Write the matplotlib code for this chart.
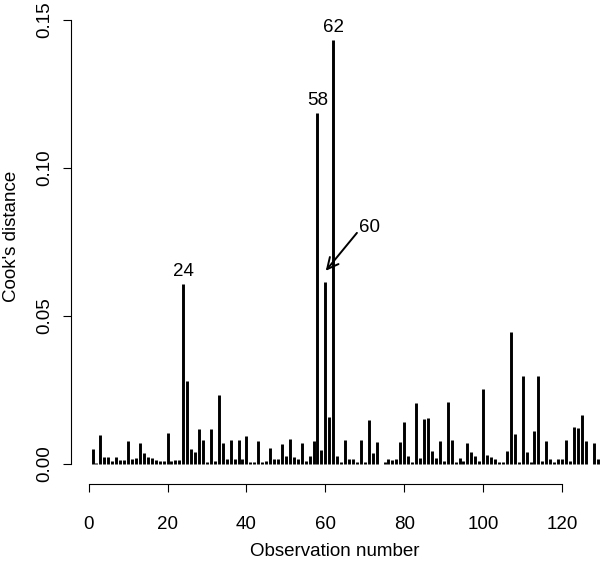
import matplotlib
matplotlib.use("Agg")
import matplotlib.pyplot as plt
import numpy as np

plt.rcParams['font.family'] = ['Liberation Sans', 'DejaVu Sans']

cooks_d = [
    0.0050, 0.0003, 0.0098, 0.0022, 0.0024, 0.0011, 0.0024, 0.0013, 0.0014, 0.0077,
    0.0017, 0.0020, 0.0071, 0.0038, 0.0022, 0.0020, 0.0015, 0.0010, 0.0009, 0.0105,
    0.0010, 0.0013, 0.0014, 0.0608, 0.0281, 0.0050, 0.0040, 0.0118, 0.0080, 0.0007,
    0.0118, 0.0011, 0.0234, 0.0070, 0.0017, 0.0081, 0.0017, 0.0081, 0.0017, 0.0093,
    0.0008, 0.0006, 0.0079, 0.0008, 0.0011, 0.0053, 0.0017, 0.0017, 0.0066, 0.0028,
    0.0084, 0.0023, 0.0017, 0.0070, 0.0011, 0.0026, 0.0077, 0.1185, 0.0048, 0.0615,
    0.0160, 0.1432, 0.0026, 0.0008, 0.0082, 0.0017, 0.0017, 0.0006, 0.0082, 0.0008,
    0.0149, 0.0037, 0.0073, 0.0000, 0.0008, 0.0017, 0.0014, 0.0017, 0.0073, 0.0141,
    0.0026, 0.0008, 0.0205, 0.0019, 0.0152, 0.0154, 0.0045, 0.0019, 0.0077, 0.0011,
    0.0210, 0.0082, 0.0008, 0.0019, 0.0011, 0.0071, 0.0039, 0.0028, 0.0011, 0.0253,
    0.0032, 0.0024, 0.0017, 0.0008, 0.0008, 0.0043, 0.0447, 0.0101, 0.0008, 0.0296,
    0.0042, 0.0008, 0.0113, 0.0298, 0.0010, 0.0077, 0.0017, 0.0006, 0.0017, 0.0017,
    0.0082, 0.0010, 0.0124, 0.0122, 0.0166, 0.0077, 0.0000, 0.0070, 0.0017,
]
obs = list(range(1, len(cooks_d) + 1))

labelled = [24, 58, 62]
arrow_obs = 60

x_ticks = [0, 20, 40, 60, 80, 100, 120]
y_ticks = [0.00, 0.05, 0.10, 0.15]
y_ticklabels = ["0.00", "0.05", "0.10", "0.15"]

fig = plt.figure(figsize=(6.0, 5.61), dpi=100)
ax = fig.add_axes([71/600, (561-484)/561, 529/600, 484/561])
ax.set_xlim(-4.46, 129.6)
ax.set_ylim(-0.00675, 0.1566)

ax.vlines(obs, 0, cooks_d, colors='black', linewidth=2.1, capstyle='butt')

fs = 13.5
for o in labelled:
    ax.text(o, cooks_d[o-1] + 0.0012, str(o), ha='center', va='bottom', fontsize=fs)

ax.annotate('', xy=(arrow_obs + 0.1, cooks_d[arrow_obs-1] + 0.0037), xytext=(68.0, 0.0780),
            arrowprops=dict(arrowstyle='->', lw=1.4, color='black', mutation_scale=20,
                            shrinkA=0, shrinkB=0))
ax.text(71.2, 0.0797, str(arrow_obs), ha='center', va='center', fontsize=fs)

for s in ['top', 'right']:
    ax.spines[s].set_visible(False)
ax.spines['left'].set_bounds(0, 0.15)
ax.spines['bottom'].set_bounds(0, 120)
ax.spines['left'].set_linewidth(0.8)
ax.spines['bottom'].set_linewidth(0.8)

ax.set_xticks(x_ticks)
ax.set_xticklabels([str(t) for t in x_ticks])
ax.set_yticks(y_ticks)
ax.set_yticklabels(y_ticklabels, rotation=90, va='center')
ax.tick_params(axis='both', direction='out', length=6, width=0.8, labelsize=fs)
ax.tick_params(axis='x', pad=17)
ax.tick_params(axis='y', pad=7)

fig.text(335/600, 1 - 552/561, "Observation number", ha='center', va='center', fontsize=fs)
fig.text(12/600, 1 - 236/561, "Cook's distance", ha='center', va='center', rotation=90, fontsize=fs)

fig.savefig("out.png", dpi=100)
